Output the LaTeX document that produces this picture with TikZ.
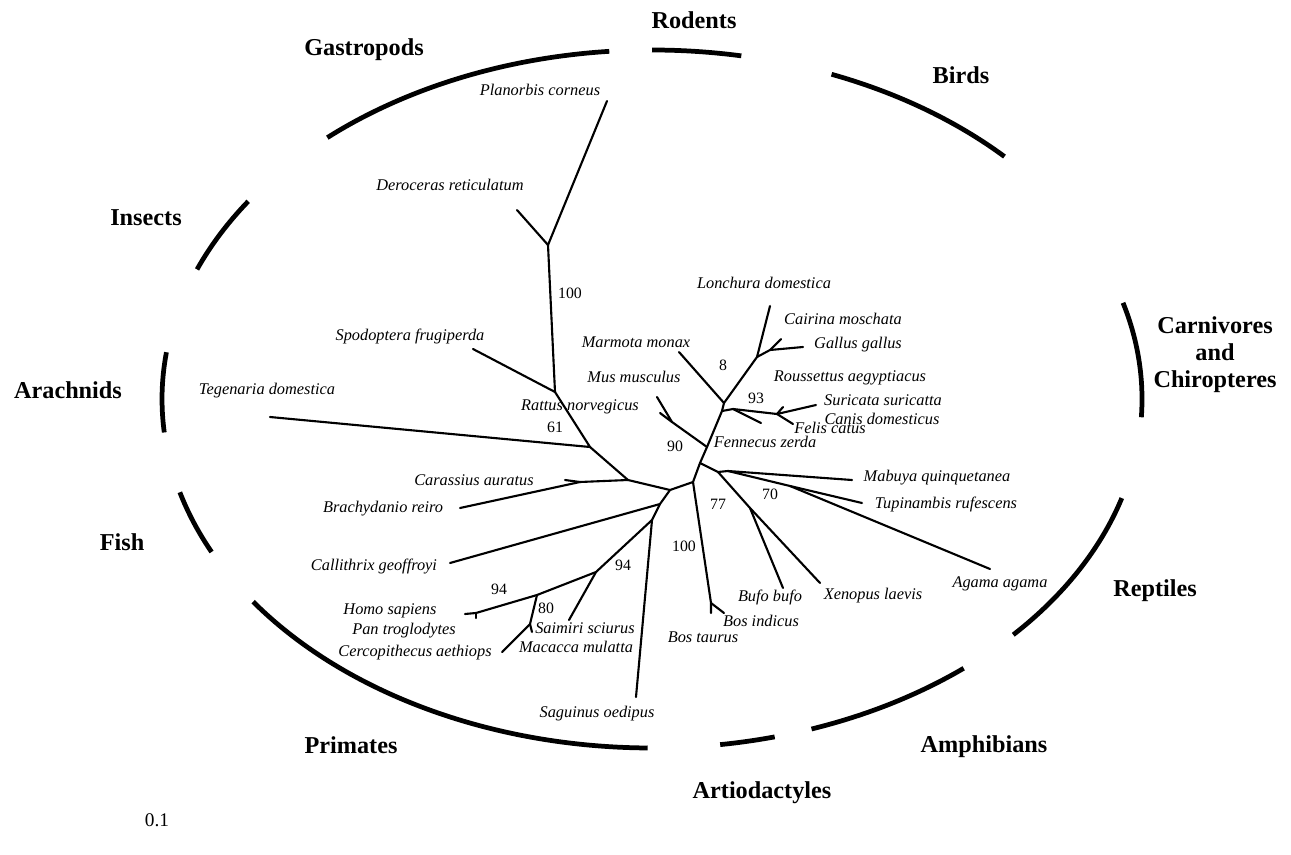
\documentclass[tikz,border=0pt]{standalone}
\usepackage{fontspec}
\setmainfont{Liberation Serif}
\usepackage{tikz}
\usetikzlibrary{positioning}

\begin{document}
\begin{tikzpicture}[x=0.02cm,y=-0.02cm,
  sp/.style={font=\fontsize{9.3}{11}\selectfont\itshape,inner sep=0pt,text height=1.5ex,text depth=.3ex},
  grp/.style={font=\fontsize{13.8}{15.3}\selectfont\bfseries,inner sep=0pt,align=center},
  bs/.style={font=\fontsize{9}{10}\selectfont,inner sep=0pt},
  ln/.style={line width=1.2pt,line cap=round,line join=round},
  ring/.style={line width=2.7pt}]
\useasboundingbox (0,0) rectangle (1291,855);
% group arcs
\coordinate (ctr) at (652,399);
\foreach \a/\b in {-131.5/-95,-90/-79.5,-68.5/-44,-16/3,16.5/42.5,50.5/71,75.5/82,90.5/144.5,154/164.5,174.5/187.7,201.8/214.5}
  \draw[ring] ([shift={(\a:490 and 349)}]ctr) arc[start angle=\a,end angle=\b,x radius=490,y radius=349];
\node[grp] (rodents) at (694,20) {Rodents};
\node[grp] (gastropods) at (364,50) {Gastropods};
\node[grp] (birds) at (961,75) {Birds};
\node[grp] (insects) at (146,218) {Insects};
\node[grp] (carnivores) at (1215,355) {Carnivores\\and\\Chiropteres};
\node[grp] (arachnids) at (68,390) {Arachnids};
\node[grp] (fish) at (122,542) {Fish};
\node[grp] (reptiles) at (1155,591) {Reptiles};
\node[grp] (primates) at (351,745) {Primates};
\node[grp] (amphibians) at (984,747) {Amphibians};
\node[grp] (artiodactyles) at (762,793) {Artiodactyles};
\node[bs,font=\fontsize{11}{12}\selectfont] (scale) at (157,820) {0.1};
% tree nodes and tips
\coordinate (gas) at (548,245);
\coordinate (planorbis) at (607,101);
\coordinate (deroceras) at (517,210);
\coordinate (ins) at (555,392);
\coordinate (spodoptera) at (473,349);
\coordinate (ara) at (590,447);
\coordinate (tegenaria) at (270,417);
\coordinate (fsh) at (628,480);
\coordinate (cyp) at (580,482);
\coordinate (carassius) at (565,480);
\coordinate (brachydanio) at (460,508);
\coordinate (rl) at (670,490);
\coordinate (rr) at (693,482);
\coordinate (pcal) at (660,504);
\coordinate (callithrix) at (450,563);
\coordinate (psag) at (652,520);
\coordinate (saguinus) at (636,697);
\coordinate (p94) at (596,572);
\coordinate (saimiri) at (569,620);
\coordinate (p94b) at (537,595);
\coordinate (hom) at (476,613);
\coordinate (homo) at (465,614);
\coordinate (pan) at (476,618);
\coordinate (p80) at (530,624);
\coordinate (cercopithecus) at (502,652);
\coordinate (macaca) at (532,632);
\coordinate (bosn) at (711,603);
\coordinate (bostaurus) at (711,613);
\coordinate (bosindicus) at (724,613);
\coordinate (tr1) at (700,463);
\coordinate (ar) at (718,472);
\coordinate (rep) at (728,471);
\coordinate (mabuya) at (852,480);
\coordinate (ta) at (790,486);
\coordinate (tupinambis) at (862,503);
\coordinate (agama) at (990,569);
\coordinate (amph) at (750,508);
\coordinate (bufo) at (783,588);
\coordinate (xenopus) at (820,583);
\coordinate (tr2) at (707,447);
\coordinate (musn) at (672,422);
\coordinate (mus) at (657,397);
\coordinate (mus2) at (660,413);
\coordinate (tr3) at (722,411);
\coordinate (top) at (724,403);
\coordinate (marmota) at (679,352);
\coordinate (birdn) at (757,357);
\coordinate (lonchura) at (770,306);
\coordinate (gal) at (770,350);
\coordinate (cairina) at (781,339);
\coordinate (gallus) at (803,347);
\coordinate (chi) at (733,409);
\coordinate (roussettus) at (761,423);
\coordinate (carn) at (777,414);
\coordinate (suricata) at (816,405);
\coordinate (canis) at (783,407);
\coordinate (felis) at (793,424);
% branches
\draw[ln] (planorbis) -- (gas) -- (deroceras);
\draw[ln] (gas) -- (ins) -- (spodoptera);
\draw[ln] (ins) -- (ara) -- (tegenaria);
\draw[ln] (ara) -- (fsh) -- (cyp) -- (carassius);
\draw[ln] (cyp) -- (brachydanio);
\draw[ln] (fsh) -- (rl) -- (rr);
\draw[ln] (rl) -- (pcal) -- (callithrix);
\draw[ln] (pcal) -- (psag) -- (saguinus);
\draw[ln] (psag) -- (p94) -- (saimiri);
\draw[ln] (p94) -- (p94b) -- (hom) -- (homo);
\draw[ln] (hom) -- (pan);
\draw[ln] (p94b) -- (p80) -- (cercopithecus);
\draw[ln] (p80) -- (macaca);
\draw[ln] (rr) -- (bosn) -- (bostaurus);
\draw[ln] (bosn) -- (bosindicus);
\draw[ln] (rr) -- (tr1) -- (tr2) -- (tr3) -- (top) -- (birdn) -- (lonchura);
\draw[ln] (tr1) -- (ar) -- (rep) -- (mabuya);
\draw[ln] (rep) -- (ta) -- (tupinambis);
\draw[ln] (ta) -- (agama);
\draw[ln] (ar) -- (amph) -- (bufo);
\draw[ln] (amph) -- (xenopus);
\draw[ln] (tr2) -- (musn) -- (mus);
\draw[ln] (musn) -- (mus2);
\draw[ln] (top) -- (marmota);
\draw[ln] (birdn) -- (gal) -- (cairina);
\draw[ln] (gal) -- (gallus);
\draw[ln] (tr3) -- (chi) -- (roussettus);
\draw[ln] (chi) -- (carn) -- (suricata);
\draw[ln] (carn) -- (canis);
\draw[ln] (carn) -- (felis);
% species
\node[sp] (lplanorbis) at (540,91) {Planorbis corneus};
\node[sp] (lderoceras) at (450,186) {Deroceras reticulatum};
\node[sp] (lspodoptera) at (410,336) {Spodoptera frugiperda};
\node[sp] (ltegenaria) at (267,390) {Tegenaria domestica};
\node[sp] (lrattus) at (580,406) {Rattus norvegicus};
\node[sp] (lcarassius) at (474,481) {Carassius auratus};
\node[sp] (lbrachydanio) at (383,508) {Brachydanio reiro};
\node[sp] (lcallithrix) at (374,566) {Callithrix geoffroyi};
\node[sp] (lhomo) at (390,610) {Homo sapiens};
\node[sp] (lpan) at (404,630) {Pan troglodytes};
\node[sp] (lcercopithecus) at (415,652) {Cercopithecus aethiops};
\node[sp] (lsaimiri) at (585,629) {Saimiri sciurus};
\node[sp] (lmacaca) at (576,648) {Macacca mulatta};
\node[sp] (lsaguinus) at (597,713) {Saguinus oedipus};
\node[sp] (lbostaurus) at (703,638) {Bos taurus};
\node[sp] (lbosindicus) at (761,622) {Bos indicus};
\node[sp] (lbufo) at (770,597) {Bufo bufo};
\node[sp] (lxenopus) at (873,595) {Xenopus laevis};
\node[sp] (lagama) at (1000,583) {Agama agama};
\node[sp] (ltupinambis) at (946,504) {Tupinambis rufescens};
\node[sp] (lmabuya) at (937,477) {Mabuya quinquetanea};
\node[sp] (lfennecus) at (765,443) {Fennecus zerda};
\node[sp] (lfelis) at (830,429) {Felis catus};
\node[sp] (lcanis) at (882,420) {Canis domesticus};
\node[sp] (lsuricata) at (883,401) {Suricata suricatta};
\node[sp] (lroussettus) at (850,377) {Roussettus aegyptiacus};
\node[sp] (lgallus) at (858,344) {Gallus gallus};
\node[sp] (lcairina) at (843,320) {Cairina moschata};
\node[sp] (llonchura) at (764,284) {Lonchura domestica};
\node[sp] (lmarmota) at (636,343) {Marmota monax};
\node[sp] (lmus) at (634,378) {Mus musculus};
% bootstrap values
\node[bs] (b100a) at (570,293) {100};
\node[bs] (b61) at (555,427) {61};
\node[bs] (b8) at (723,365) {8};
\node[bs] (b93) at (756,398) {93};
\node[bs] (b90) at (675,446) {90};
\node[bs] (b77) at (718,504) {77};
\node[bs] (b70) at (770,494) {70};
\node[bs] (b100b) at (684,546) {100};
\node[bs] (b94a) at (623,565) {94};
\node[bs] (b94b) at (499,589) {94};
\node[bs] (b80) at (546,608) {80};
\end{tikzpicture}
\end{document}
